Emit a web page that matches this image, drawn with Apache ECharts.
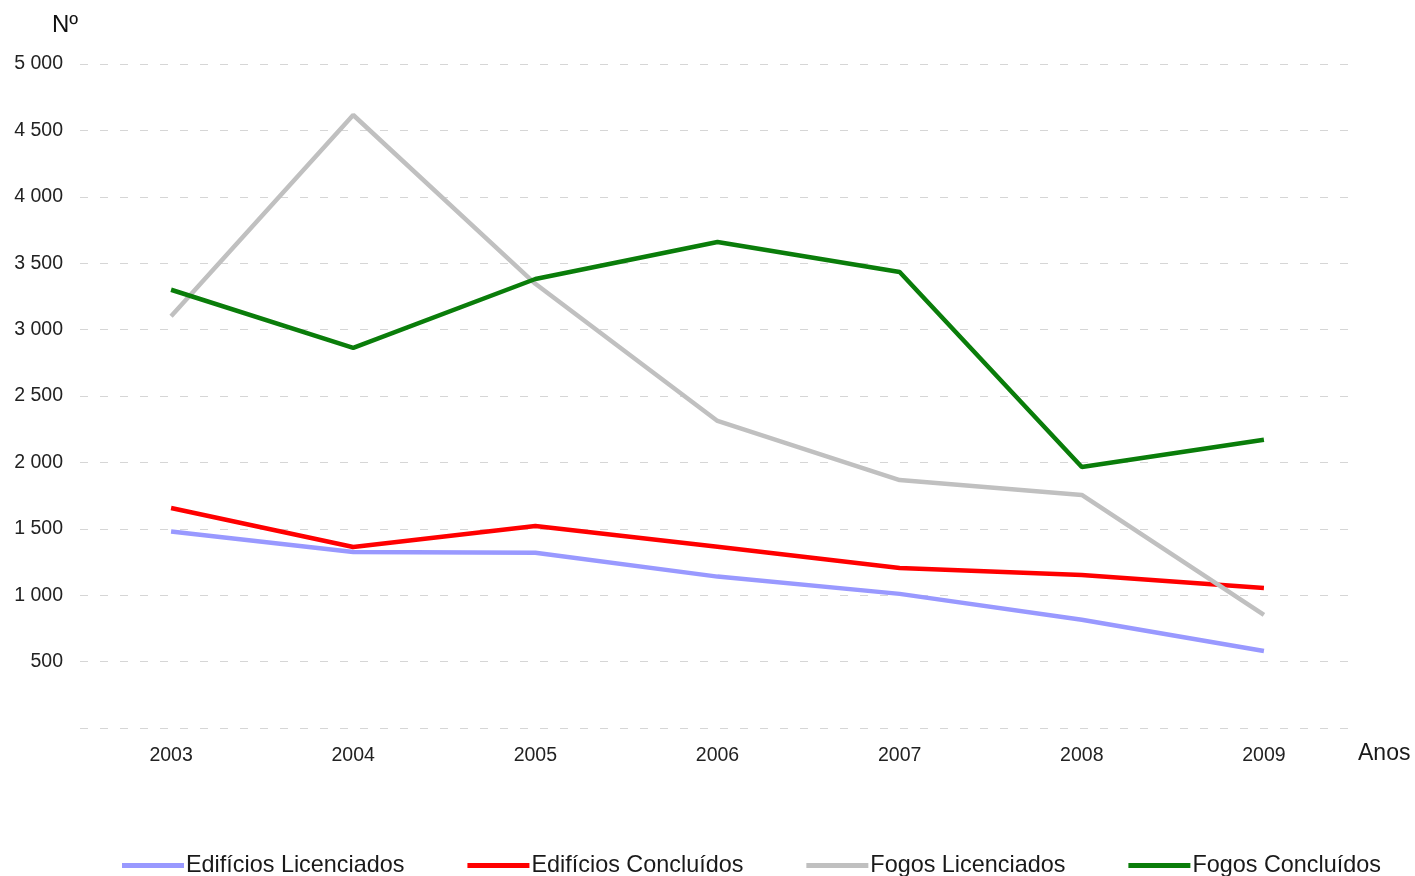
<!DOCTYPE html>
<html>
<head>
<meta charset="utf-8">
<script src="https://cdn.jsdelivr.net/npm/echarts@6/dist/echarts.min.js"></script>
<style>html,body{margin:0;padding:0;background:#fff}#c{width:1415px;height:876px}</style>
</head>
<body>
<div id="c"></div>
<script>
const years = ['2003','2004','2005','2006','2007','2008','2009'];
const edificiosLicenciados = [1480, 1325, 1320, 1140, 1010, 815, 580];
const edificiosConcluidos = [1657, 1363, 1521, 1365, 1205, 1152, 1054];
const fogosLicenciados = [3100, 4616, 3345, 2312, 1867, 1755, 851];
const fogosConcluidos = [3300, 2862, 3381, 3660, 3434, 1965, 2170];
const seriesNames = ['Edifícios Licenciados','Edifícios Concluídos','Fogos Licenciados','Fogos Concluídos'];
const seriesColors = ['#9999FF','#FF0000','#C0C0C0','#0A7D0A'];
const seriesData = [edificiosLicenciados, edificiosConcluidos, fogosLicenciados, fogosConcluidos];

const FONT = '"Liberation Sans", Arial, sans-serif';
const chart = echarts.init(document.getElementById('c'));
chart.setOption({
  animation: false,
  textStyle: { fontFamily: FONT },
  grid: { left: 80, right: 60, top: 64, bottom: 148 },
  legend: {
    top: 849,
    left: 117,
    padding: 5,
    icon: 'rect',
    itemWidth: 62,
    itemHeight: 5,
    itemGap: 63,
    textStyle: { fontSize: 23.4, color: '#1a1a1a', fontFamily: FONT, padding: [0, 0, 0, -3] },
    data: seriesNames
  },
  xAxis: {
    type: 'category',
    data: years,
    boundaryGap: true,
    axisLine: { show: false },
    axisTick: { show: false },
    axisLabel: { fontSize: 19.5, color: '#222', margin: 18 },
    name: 'Anos',
    nameLocation: 'end',
    nameGap: 3,
    nameTextStyle: { fontSize: 23, color: '#1a1a1a', align: 'left', verticalAlign: 'top', padding: [14, 0, 0, 0] }
  },
  yAxis: {
    type: 'value',
    min: 0,
    max: 5000,
    interval: 500,
    axisLine: { show: false },
    axisTick: { show: false },
    axisLabel: {
      fontSize: 19.5, color: '#222', margin: 17,
      formatter: v => v === 0 ? '' : String(v).replace(/\B(?=(\d{3})+(?!\d))/g, ' ')
    },
    splitLine: { lineStyle: { type: [8, 12], color: '#d6d6d6', width: 1 } },
    name: 'Nº',
    nameLocation: 'end',
    nameGap: 27,
    nameTextStyle: { fontSize: 24, color: '#111', align: 'right', padding: [0, 2, 0, 0] }
  },
  series: seriesNames.map((n, i) => ({
    name: n,
    type: 'line',
    data: seriesData[i],
    symbol: 'none',
    lineStyle: { color: seriesColors[i], width: 4.5 },
    itemStyle: { color: seriesColors[i] },
    z: 2 + i
  }))
});
</script>
</body>
</html>
